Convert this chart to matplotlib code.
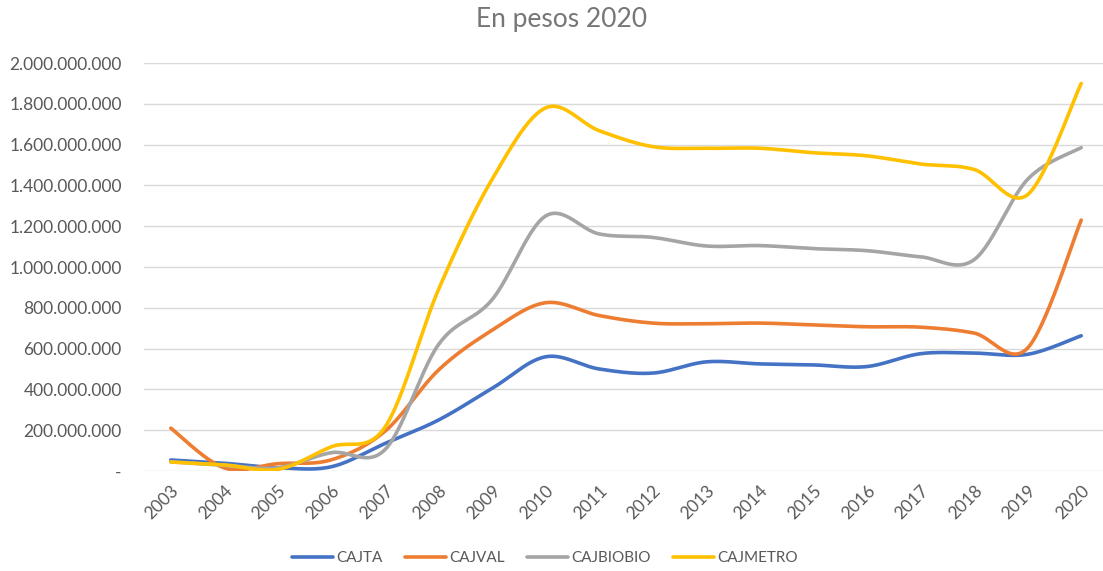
import numpy as np
import matplotlib.pyplot as plt
from matplotlib.ticker import FuncFormatter

plt.rcParams['font.family'] = ['Lato', 'DejaVu Sans']

years = ['2003', '2004', '2005', '2006', '2007', '2008', '2009', '2010', '2011',
         '2012', '2013', '2014', '2015', '2016', '2017', '2018', '2019', '2020']

# values in millions of pesos
cajta = [54, 38, 16, 21, 135, 250, 405, 560, 500, 480, 535, 525, 520, 512, 575, 578, 572, 663]
cajval = [210, 15, 36, 55, 195, 495, 690, 825, 762, 725, 722, 725, 716, 707, 705, 676, 603, 1230]
cajbiobio = [45, 28, 16, 90, 105, 620, 840, 1250, 1162, 1145, 1103, 1105, 1090, 1080, 1050, 1036, 1430, 1585]
cajmetro = [44, 30, 8, 119, 215, 890, 1430, 1780, 1668, 1590, 1582, 1582, 1560, 1545, 1505, 1478, 1355, 1900]

series = [('CAJTA', cajta, '#4472C4'),
          ('CAJVAL', cajval, '#ED7D31'),
          ('CAJBIOBIO', cajbiobio, '#A5A5A5'),
          ('CAJMETRO', cajmetro, '#FFC000')]


def smooth(x, y, n=30):
    # Excel-style smoothed line: cubic Bezier through the points (Catmull-Rom)
    x = np.asarray(x, float)
    y = np.asarray(y, float)
    px = np.concatenate([[x[0]], x, [x[-1]]])
    py = np.concatenate([[y[0]], y, [y[-1]]])
    xs, ys = [], []
    t = np.linspace(0, 1, n)
    for i in range(1, len(px) - 2):
        p0 = np.array([px[i], py[i]])
        p3 = np.array([px[i + 1], py[i + 1]])
        c1 = p0 + (np.array([px[i + 1], py[i + 1]]) - np.array([px[i - 1], py[i - 1]])) / 6
        c2 = p3 - (np.array([px[i + 2], py[i + 2]]) - p0) / 6
        b = ((1 - t) ** 3)[:, None] * p0 + (3 * (1 - t) ** 2 * t)[:, None] * c1 \
            + (3 * (1 - t) * t ** 2)[:, None] * c2 + (t ** 3)[:, None] * p3
        xs.extend(b[:, 0])
        ys.extend(b[:, 1])
    return np.array(xs), np.array(ys)


fig = plt.figure(figsize=(11.03, 5.71), dpi=100)
ax = fig.add_axes([144 / 1103, 100 / 571, 964 / 1103, 408 / 571])

x = np.arange(len(years))
for name, vals, col in series:
    sx, sy = smooth(x, np.array(vals) * 1e6)
    ax.plot(sx, sy, color=col, lw=2.6, label=name, solid_capstyle='round')

ax.set_xlim(-0.5, len(years) - 0.5)
ax.set_ylim(0, 2e9)
ax.set_yticks(np.arange(0, 2.01e9, 2e8))


def fmt(v, pos):
    if v == 0:
        return '-'
    return f'{int(round(v)):,}'.replace(',', '.')


ax.yaxis.set_major_formatter(FuncFormatter(fmt))
ax.set_xticks(x)
ax.set_xticklabels(years, rotation=45, ha='right', rotation_mode='anchor')
ax.grid(axis='y', color='#D9D9D9', lw=1)
ax.set_axisbelow(True)
for s in ax.spines.values():
    s.set_visible(False)
ax.tick_params(axis='both', length=0, colors='#595959', labelsize=12.5)
ax.tick_params(axis='y', pad=16)
ax.tick_params(axis='x', pad=8)

fig.text(0.509, 0.965, 'En pesos 2020', ha='center', va='center',
         fontsize=19, color='#767676')

fig.legend(loc='center', bbox_to_anchor=(545 / 1103, 13 / 571), ncol=4, frameon=False,
           fontsize=11, handlelength=2.7, columnspacing=1.45, handletextpad=0.2,
           labelcolor='#595959')

fig.savefig('out.png', dpi=100)
